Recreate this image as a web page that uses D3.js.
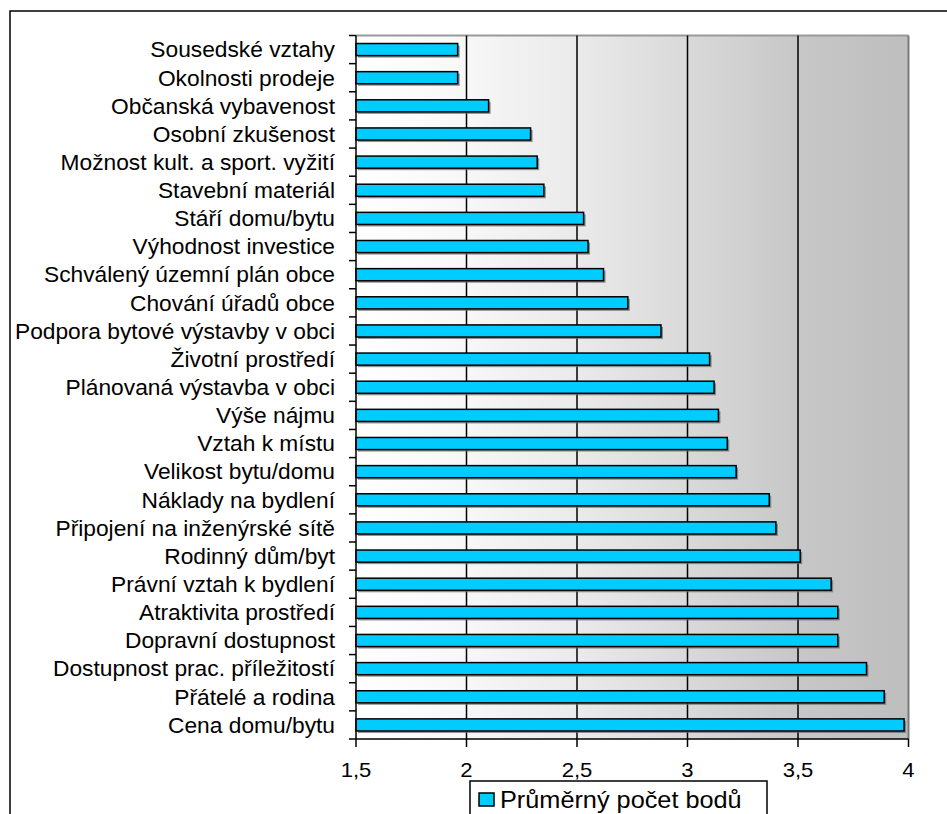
<!DOCTYPE html>
<html>
<head>
<meta charset="utf-8">
<script src="https://cdn.jsdelivr.net/npm/d3@7"></script>
<style>
  html, body { margin: 0; padding: 0; background: #fff; }
  svg { display: block; }
  text { font-family: "Liberation Sans", Arial, sans-serif; fill: #000; }
</style>
</head>
<body>
<svg id="chart" width="947" height="814"></svg>
<script>
// Factors, listed top to bottom as they appear on the chart
const categories = [
  "Sousedské vztahy",
  "Okolnosti prodeje",
  "Občanská vybavenost",
  "Osobní zkušenost",
  "Možnost kult. a sport. vyžití",
  "Stavební materiál",
  "Stáří domu/bytu",
  "Výhodnost investice",
  "Schválený územní plán obce",
  "Chování úřadů obce",
  "Podpora bytové výstavby v obci",
  "Životní prostředí",
  "Plánovaná výstavba v obci",
  "Výše nájmu",
  "Vztah k místu",
  "Velikost bytu/domu",
  "Náklady na bydlení",
  "Připojení na inženýrské sítě",
  "Rodinný dům/byt",
  "Právní vztah k bydlení",
  "Atraktivita prostředí",
  "Dopravní dostupnost",
  "Dostupnost prac. příležitostí",
  "Přátelé a rodina",
  "Cena domu/bytu"
];

// Average score per factor
const averageScore = [
  1.96, 1.96, 2.10, 2.29, 2.32, 2.35, 2.53, 2.55, 2.62, 2.73,
  2.88, 3.10, 3.12, 3.14, 3.18, 3.22, 3.37, 3.40, 3.51, 3.65,
  3.68, 3.68, 3.81, 3.89, 3.98
];

const xTicks = [1.5, 2, 2.5, 3, 3.5, 4];
const seriesName = "Průměrný počet bodů";

const svg = d3.select("#chart");

const plot = { left: 356, right: 908.5, top: 35.5, bottom: 739 };
const textStretch = 1.035;

const x = d3.scaleLinear().domain([1.5, 4]).range([plot.left, plot.right]);
const y = d3.scaleBand().domain(categories).range([plot.top, plot.bottom])
  .paddingInner(0.57).paddingOuter(0.285);

// Outer chart frame (continues past the right and bottom edges)
svg.append("rect")
  .attr("x", 10).attr("y", 11).attr("width", 1200).attr("height", 1200)
  .attr("fill", "none").attr("stroke", "#000").attr("stroke-width", 1.5);

// Plot area background: white to grey, left to right
const defs = svg.append("defs");
const grad = defs.append("linearGradient").attr("id", "plotBg")
  .attr("x1", "0%").attr("x2", "100%").attr("y1", "0%").attr("y2", "0%");
[[0, 255], [0.2, 247], [0.4, 234], [0.6, 217], [0.8, 199], [1, 190]].forEach(([o, v]) => {
  grad.append("stop").attr("offset", o).attr("stop-color", d3.rgb(v, v, v));
});

svg.append("rect")
  .attr("x", plot.left).attr("y", plot.top)
  .attr("width", plot.right - plot.left).attr("height", plot.bottom - plot.top)
  .attr("fill", "url(#plotBg)");

// Plot area border (top and right)
svg.append("line")
  .attr("x1", plot.left).attr("x2", plot.right)
  .attr("y1", plot.top).attr("y2", plot.top)
  .attr("stroke", "#999").attr("stroke-width", 2);
svg.append("line")
  .attr("x1", plot.right).attr("x2", plot.right)
  .attr("y1", plot.top).attr("y2", plot.bottom)
  .attr("stroke", "#7a7a7a").attr("stroke-width", 2);

// Vertical gridlines
svg.append("g").selectAll("line")
  .data(xTicks.filter(t => t > 1.5 && t < 4))
  .join("line")
  .attr("x1", d => x(d)).attr("x2", d => x(d))
  .attr("y1", plot.top).attr("y2", plot.bottom)
  .attr("stroke", "#000").attr("stroke-width", 1.5);

// Bars with a drop shadow
const bars = svg.append("g");
bars.selectAll("rect.shadow")
  .data(categories)
  .join("rect")
  .attr("class", "shadow")
  .attr("x", x(1.5) + 2)
  .attr("y", d => y(d) + 2)
  .attr("width", (d, i) => x(averageScore[i]) - x(1.5))
  .attr("height", y.bandwidth())
  .attr("fill", "#6e6e6e")
  .attr("opacity", 0.75);

bars.selectAll("rect.bar")
  .data(categories)
  .join("rect")
  .attr("class", "bar")
  .attr("x", x(1.5))
  .attr("y", d => y(d))
  .attr("width", (d, i) => x(averageScore[i]) - x(1.5))
  .attr("height", y.bandwidth())
  .attr("fill", "#00CCFF")
  .attr("stroke", "#000")
  .attr("stroke-width", 1.5);

// Category axis (left)
const step = y.step();
const boundaries = d3.range(categories.length + 1).map(i => plot.top + i * step);
const yAxis = svg.append("g");
yAxis.append("line")
  .attr("x1", plot.left).attr("x2", plot.left)
  .attr("y1", plot.top).attr("y2", plot.bottom)
  .attr("stroke", "#000").attr("stroke-width", 1.5);
yAxis.selectAll("line.tick")
  .data(boundaries)
  .join("line")
  .attr("class", "tick")
  .attr("x1", plot.left - 7).attr("x2", plot.left)
  .attr("y1", d => d).attr("y2", d => d)
  .attr("stroke", "#000").attr("stroke-width", 1.5);
yAxis.selectAll("text")
  .data(categories)
  .join("text")
  .attr("transform", d => `translate(335,${y(d) + y.bandwidth() / 2 + 7.8}) scale(${textStretch},1)`)
  .attr("text-anchor", "end")
  .style("font-size", "22px")
  .text(d => d);

// Value axis (bottom)
const xAxis = svg.append("g");
xAxis.append("line")
  .attr("x1", plot.left).attr("x2", plot.right)
  .attr("y1", plot.bottom).attr("y2", plot.bottom)
  .attr("stroke", "#000").attr("stroke-width", 1.5);
xAxis.selectAll("line.tick")
  .data(xTicks)
  .join("line")
  .attr("class", "tick")
  .attr("x1", d => x(d)).attr("x2", d => x(d))
  .attr("y1", plot.bottom).attr("y2", plot.bottom + 8)
  .attr("stroke", "#000").attr("stroke-width", 1.5);
const fmt = v => String(v).replace(".", ",");
xAxis.selectAll("text")
  .data(xTicks)
  .join("text")
  .attr("transform", d => `translate(${x(d)},777) scale(1.05,1)`)
  .attr("text-anchor", "middle")
  .style("font-size", "21px")
  .text(fmt);

// Legend
const legend = svg.append("g");
legend.append("rect")
  .attr("x", 470).attr("y", 781).attr("width", 297).attr("height", 60)
  .attr("fill", "#fff").attr("stroke", "#000").attr("stroke-width", 1.5);
legend.append("rect")
  .attr("x", 479).attr("y", 793).attr("width", 15).attr("height", 13)
  .attr("fill", "#00CCFF").attr("stroke", "#000").attr("stroke-width", 1.5);
legend.append("text")
  .attr("transform", `translate(500,808) scale(1.1,1)`)
  .style("font-size", "23px")
  .text(seriesName);
</script>
</body>
</html>
